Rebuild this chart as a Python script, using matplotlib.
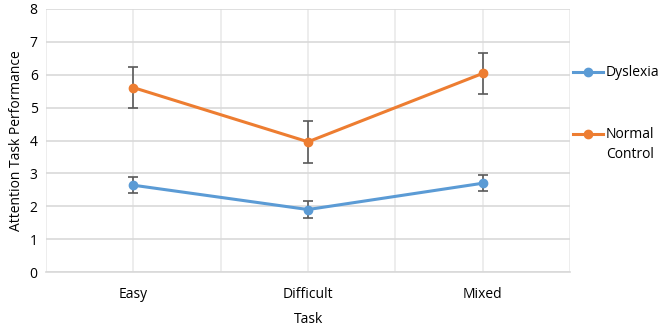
import numpy as np
import matplotlib.pyplot as plt
from matplotlib.lines import Line2D

plt.rcParams["font.family"] = ["Open Sans", "DejaVu Sans"]

# ---- data ----
tasks = ["Easy", "Difficult", "Mixed"]
dyslexia = [2.64, 1.90, 2.70]
dyslexia_err = [0.25, 0.25, 0.25]
control = [5.61, 3.96, 6.04]
control_err = [0.63, 0.63, 0.63]

blue = "#5B9BD5"
orange = "#ED7D31"
errcol = "#595959"

fig = plt.figure(figsize=(6.62, 3.27), dpi=100)
ax = fig.add_axes([46 / 662, (327 - 272) / 327, 524 / 662, 263 / 327])

x = np.arange(len(tasks))
for vals, errs, col in [(dyslexia, dyslexia_err, blue), (control, control_err, orange)]:
    ax.errorbar(x, vals, yerr=errs, color=col, lw=2.2, marker="o", ms=6,
                ecolor=errcol, elinewidth=1.2, capsize=3.5, capthick=1.2, zorder=3)

ax.set_xlim(-0.5, 2.5)
ax.set_ylim(0, 8)
ax.set_xticks(x)
ax.set_xticklabels(tasks)
ax.set_yticks(range(0, 9))
ax.set_xticks(np.arange(-0.5, 2.6, 1.0), minor=True)
ax.tick_params(axis="both", which="both", length=0, labelsize=10, colors="black")
ax.tick_params(axis="x", pad=11)
ax.tick_params(axis="y", pad=6)
ax.yaxis.grid(True, color="#D9D9D9", lw=1.2)
ax.xaxis.grid(True, which="major", color="#EAEAEA", lw=1.2)
ax.xaxis.grid(True, which="minor", color="#EAEAEA", lw=1.2)
ax.set_axisbelow(True)
for s in ["top", "right", "left"]:
    ax.spines[s].set_visible(False)
ax.spines["bottom"].set_color("#D9D9D9")
ax.spines["bottom"].set_linewidth(1.2)

ax.set_xlabel("Task", fontsize=10, labelpad=7)
ax.set_ylabel("Attention Task Performance", fontsize=10, labelpad=4)

# legend on the right, drawn by hand like the Excel one
for label, col, ypix in [("Dyslexia", blue, 72), ("Normal", orange, 134)]:
    yf = 1 - ypix / 327
    fig.add_artist(Line2D([573 / 662, 603 / 662], [yf, yf], color=col, lw=2.2))
    fig.add_artist(Line2D([588 / 662], [yf], color=col, marker="o", ms=6))
    fig.text(606 / 662, yf, label, fontsize=10, va="center", ha="left")
fig.text(606 / 662, 1 - 155 / 327, "Control", fontsize=10, va="center", ha="left")

fig.savefig("out.png", dpi=100, facecolor="w")
